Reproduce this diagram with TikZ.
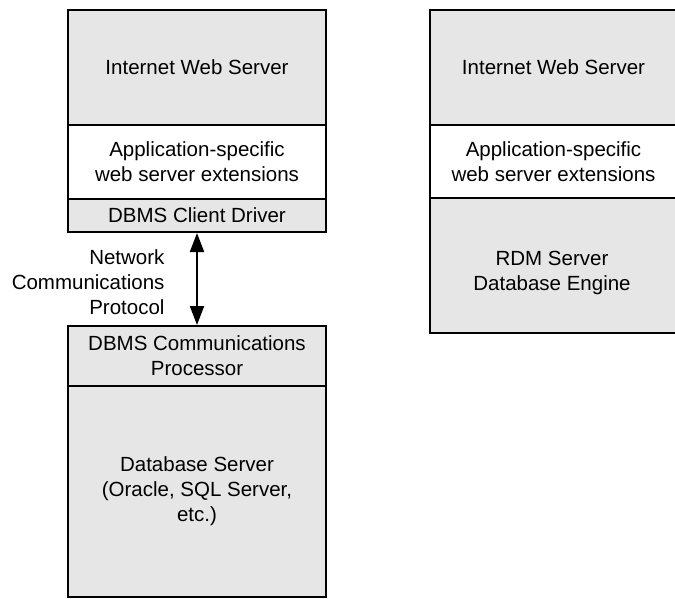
\documentclass[tikz,border=0pt]{standalone}
\usepackage{fontspec}
\setmainfont{Liberation Sans}
\usetikzlibrary{arrows.meta}
\definecolor{layergray}{RGB}{230,230,230}
\begin{document}
\begin{tikzpicture}[x=1pt,y=-1pt,
  txt/.style={align=center, font=\fontsize{20.5}{25}\selectfont},
  layer/.style={txt, draw=black, line width=2pt, rectangle, inner sep=0pt, outer sep=0pt, anchor=north west},
  shaded/.style={layer, fill=layergray},
  plain/.style={layer, fill=white},
  link/.style={line width=2pt, {Triangle[width=14pt,length=19pt]}-{Triangle[width=14pt,length=19pt]}, shorten <=1pt, shorten >=1pt}]
\useasboundingbox (0,0) rectangle (675,598);

% Left: web server talking to a separate database server
\node[shaded, minimum width=258, minimum height=115] (webL) at (68,10) {Internet Web Server};
\node[plain, minimum width=258, minimum height=74] (extL) at (68,125) {Application-specific\\web server extensions};
\node[shaded, minimum width=258, minimum height=33] (client) at (68,199) {DBMS Client Driver};

\node[shaded, minimum width=258, minimum height=60] (comm) at (68,326) {DBMS Communications\\Processor};
\node[shaded, minimum width=258, minimum height=211] (dbsrv) at (68,386) {Database Server\\(Oracle, SQL Server,\\etc.)};

\draw[link] (client.south) -- (comm.north);
\node[txt, align=right, anchor=east] (proto) at (168,282) {Network\\Communications\\Protocol};

% Right: database engine embedded in the web server
\node[shaded, minimum width=247, minimum height=115] (webR) at (430,10) {Internet Web Server};
\node[plain, minimum width=247, minimum height=73] (extR) at (430,125) {Application-specific\\web server extensions};
\node[shaded, minimum width=247, minimum height=135] (rdm) at (430,198) {};
\node[txt] (rdmtext) at (552,273) {RDM Server\\Database Engine};
\end{tikzpicture}
\end{document}
